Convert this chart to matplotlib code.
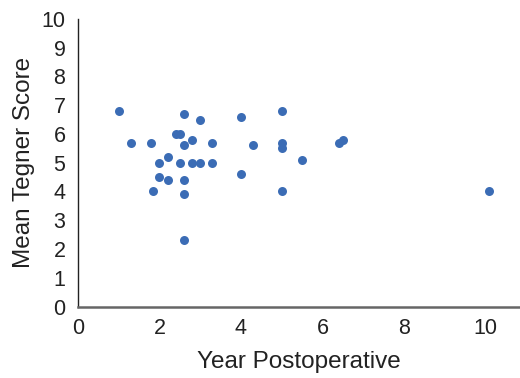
import matplotlib
matplotlib.use("Agg")
import matplotlib.pyplot as plt

# Years postoperative vs mean Tegner score
years = [1.0, 1.3, 1.8, 1.85, 2.0, 2.0, 2.2, 2.2, 2.4, 2.5, 2.5, 2.6, 2.6, 2.6,
         2.6, 2.6, 2.8, 2.8, 3.0, 3.0, 3.3, 3.3, 4.0, 4.0, 4.3, 5.0, 5.0, 5.0,
         5.0, 5.5, 6.4, 6.5, 10.1]
tegner = [6.8, 5.7, 5.7, 4.0, 5.0, 4.5, 5.2, 4.4, 6.0, 6.0, 5.0, 6.7, 5.6, 4.4,
          3.9, 2.3, 5.8, 5.0, 5.0, 6.5, 5.7, 5.0, 6.6, 4.6, 5.6, 6.8, 5.7, 5.5,
          4.0, 5.1, 5.7, 5.8, 4.0]

plt.rcParams['font.family'] = ['Liberation Sans', 'DejaVu Sans']

fig = plt.figure(figsize=(5.2, 3.78), dpi=100)
ax = fig.add_axes([0.15, 0.189, 0.85, 0.761])

ax.scatter(years, tegner, s=42, color='#3b6cb5', zorder=3, linewidths=0)

ax.set_xlim(0, 10.85)
ax.set_ylim(0, 10)
ax.set_xticks([0, 2, 4, 6, 8, 10])
ax.set_yticks(range(0, 11))
ax.tick_params(length=0, labelsize=15.5, colors='#222222')
ax.tick_params(axis='x', pad=8)
ax.tick_params(axis='y', pad=9)

for side in ['top', 'right']:
    ax.spines[side].set_visible(False)
ax.spines['left'].set_color('#222222')
ax.spines['left'].set_linewidth(1.0)
ax.spines['bottom'].set_color('#666666')
ax.spines['bottom'].set_linewidth(1.8)

ax.set_xlabel('Year Postoperative', fontsize=17.5, color='#222222', labelpad=9)
ax.set_ylabel('Mean Tegner Score', fontsize=17.5, color='#222222', labelpad=5)

fig.savefig('out.png', dpi=100)
